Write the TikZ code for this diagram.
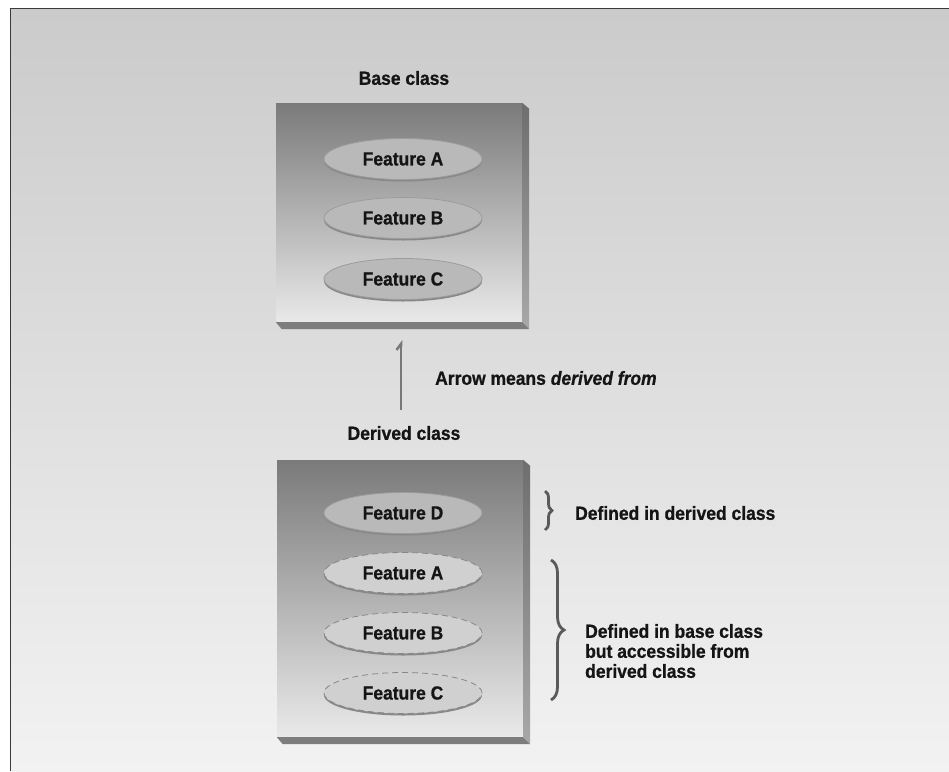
\documentclass[tikz,border=0pt]{standalone}
\usepackage{fontspec}
\setmainfont{Liberation Sans}[FakeStretch=0.92, BoldFeatures={FakeBold=0.8}, BoldItalicFeatures={FakeBold=0.8}]
\usetikzlibrary{shapes.geometric,arrows.meta,decorations.pathreplacing,shadows,calc}
\definecolor{txt}{HTML}{151515}
\definecolor{bgtop}{HTML}{CBCBCB}
\definecolor{bgbot}{HTML}{F2F2F2}
\definecolor{framecol}{HTML}{3A3A3A}
\definecolor{facetop}{HTML}{7A7A7A}
\definecolor{facebot}{HTML}{E9E9E9}
\definecolor{sidetop}{HTML}{6E6E6E}
\definecolor{sidebot}{HTML}{A8A8A8}
\definecolor{bottomcol}{HTML}{7D7D7D}
\definecolor{featfill}{HTML}{B9B9B9}
\definecolor{featline}{HTML}{9C9C9C}
\definecolor{featshadow}{HTML}{888888}
\definecolor{inhfill}{HTML}{D0D0D0}
\definecolor{inhline}{HTML}{878787}
\definecolor{arrcol}{HTML}{787878}
\definecolor{bracecol}{HTML}{5A5A5A}
\begin{document}
\begin{tikzpicture}[x=1pt,y=-1pt,
  lbl/.style={font=\fontsize{19pt}{20pt}\selectfont\bfseries, text=txt, inner sep=0pt},
  face/.style={rectangle, minimum width=246pt, inner sep=0pt, top color=facetop, bottom color=facebot, draw=none},
  feat/.style={ellipse, minimum width=158pt, minimum height=41pt, inner sep=0pt, lbl,
     fill=featfill, draw=featline, line width=0.8pt,
     drop shadow={shadow xshift=0pt, shadow yshift=-2pt, fill=featshadow, opacity=1}},
  inh/.style={feat, fill=inhfill, draw=inhline, dash pattern=on 6pt off 4pt},
  conn/.style={draw=arrcol, line width=2.5pt, -{Straight Barb[left,length=6pt,width=9pt]}},
  bracestyle/.style={draw=bracecol, line width=2.8pt, decorate, decoration={brace, amplitude=#1}},
  side/.style={top color=sidetop, bottom color=sidebot, draw=none},
  bottomside/.style={fill=bottomcol, draw=none}
]
\useasboundingbox (0,0) rectangle (949,771);
\fill[white] (0,0) rectangle (949,771);
\shade[top color=bgtop, bottom color=bgbot] (11,9) rectangle (949,771);
\draw[framecol, line width=1.5pt] (10.5,771) -- (10.5,8.5) -- (949,8.5);

% Base class
\node[lbl] (bt) at (404,78) {Base class};
\node[face, minimum height=219pt] (bf) at (399,212.5) {};
\shade[side] (bf.north east) -- ++(7,6) -- ($(bf.south east)+(7,7)$) -- (bf.south east) -- cycle;
\fill[bottomside] (bf.south west) -- (bf.south east) -- ++(7,7) -- ($(bf.south west)+(6,7)$) -- cycle;
\node[feat] (ba) at (403,159) {Feature A};
\node[feat] (bb) at (403,218) {Feature B};
\node[feat] (bc) at (403,279) {Feature C};

% Derived class
\node[lbl] (dt) at (404,433) {Derived class};
\node[face, minimum height=277pt] (df) at (400,598.5) {};
\shade[side] (df.north east) -- ++(7,6) -- ($(df.south east)+(7,7)$) -- (df.south east) -- cycle;
\fill[bottomside] (df.south west) -- (df.south east) -- ++(7,7) -- ($(df.south west)+(6,7)$) -- cycle;
\node[feat] (dd) at (403,513) {Feature D};
\node[inh] (da) at (403,573) {Feature A};
\node[inh] (db) at (403,633) {Feature B};
\node[inh] (dc) at (403,693) {Feature C};

% Arrow
\draw[conn] ($(bf.south |- dt.north)+(2,-16)$) -- ($(bf.south)+(2,18)$);
\node[lbl, anchor=west] (am) at (435,378) {Arrow means \textit{derived from}};

% Braces and notes
\draw[bracestyle=7pt] (545,491) -- (545,530);
\node[lbl, anchor=west] (n1) at (575,513) {Defined in derived class};
\draw[bracestyle=13pt] (551,560) -- (551,700);
\node[lbl, anchor=west, align=left] (n2) at (585,651) {Defined in base class\\but accessible from\\derived class};
\end{tikzpicture}
\end{document}
